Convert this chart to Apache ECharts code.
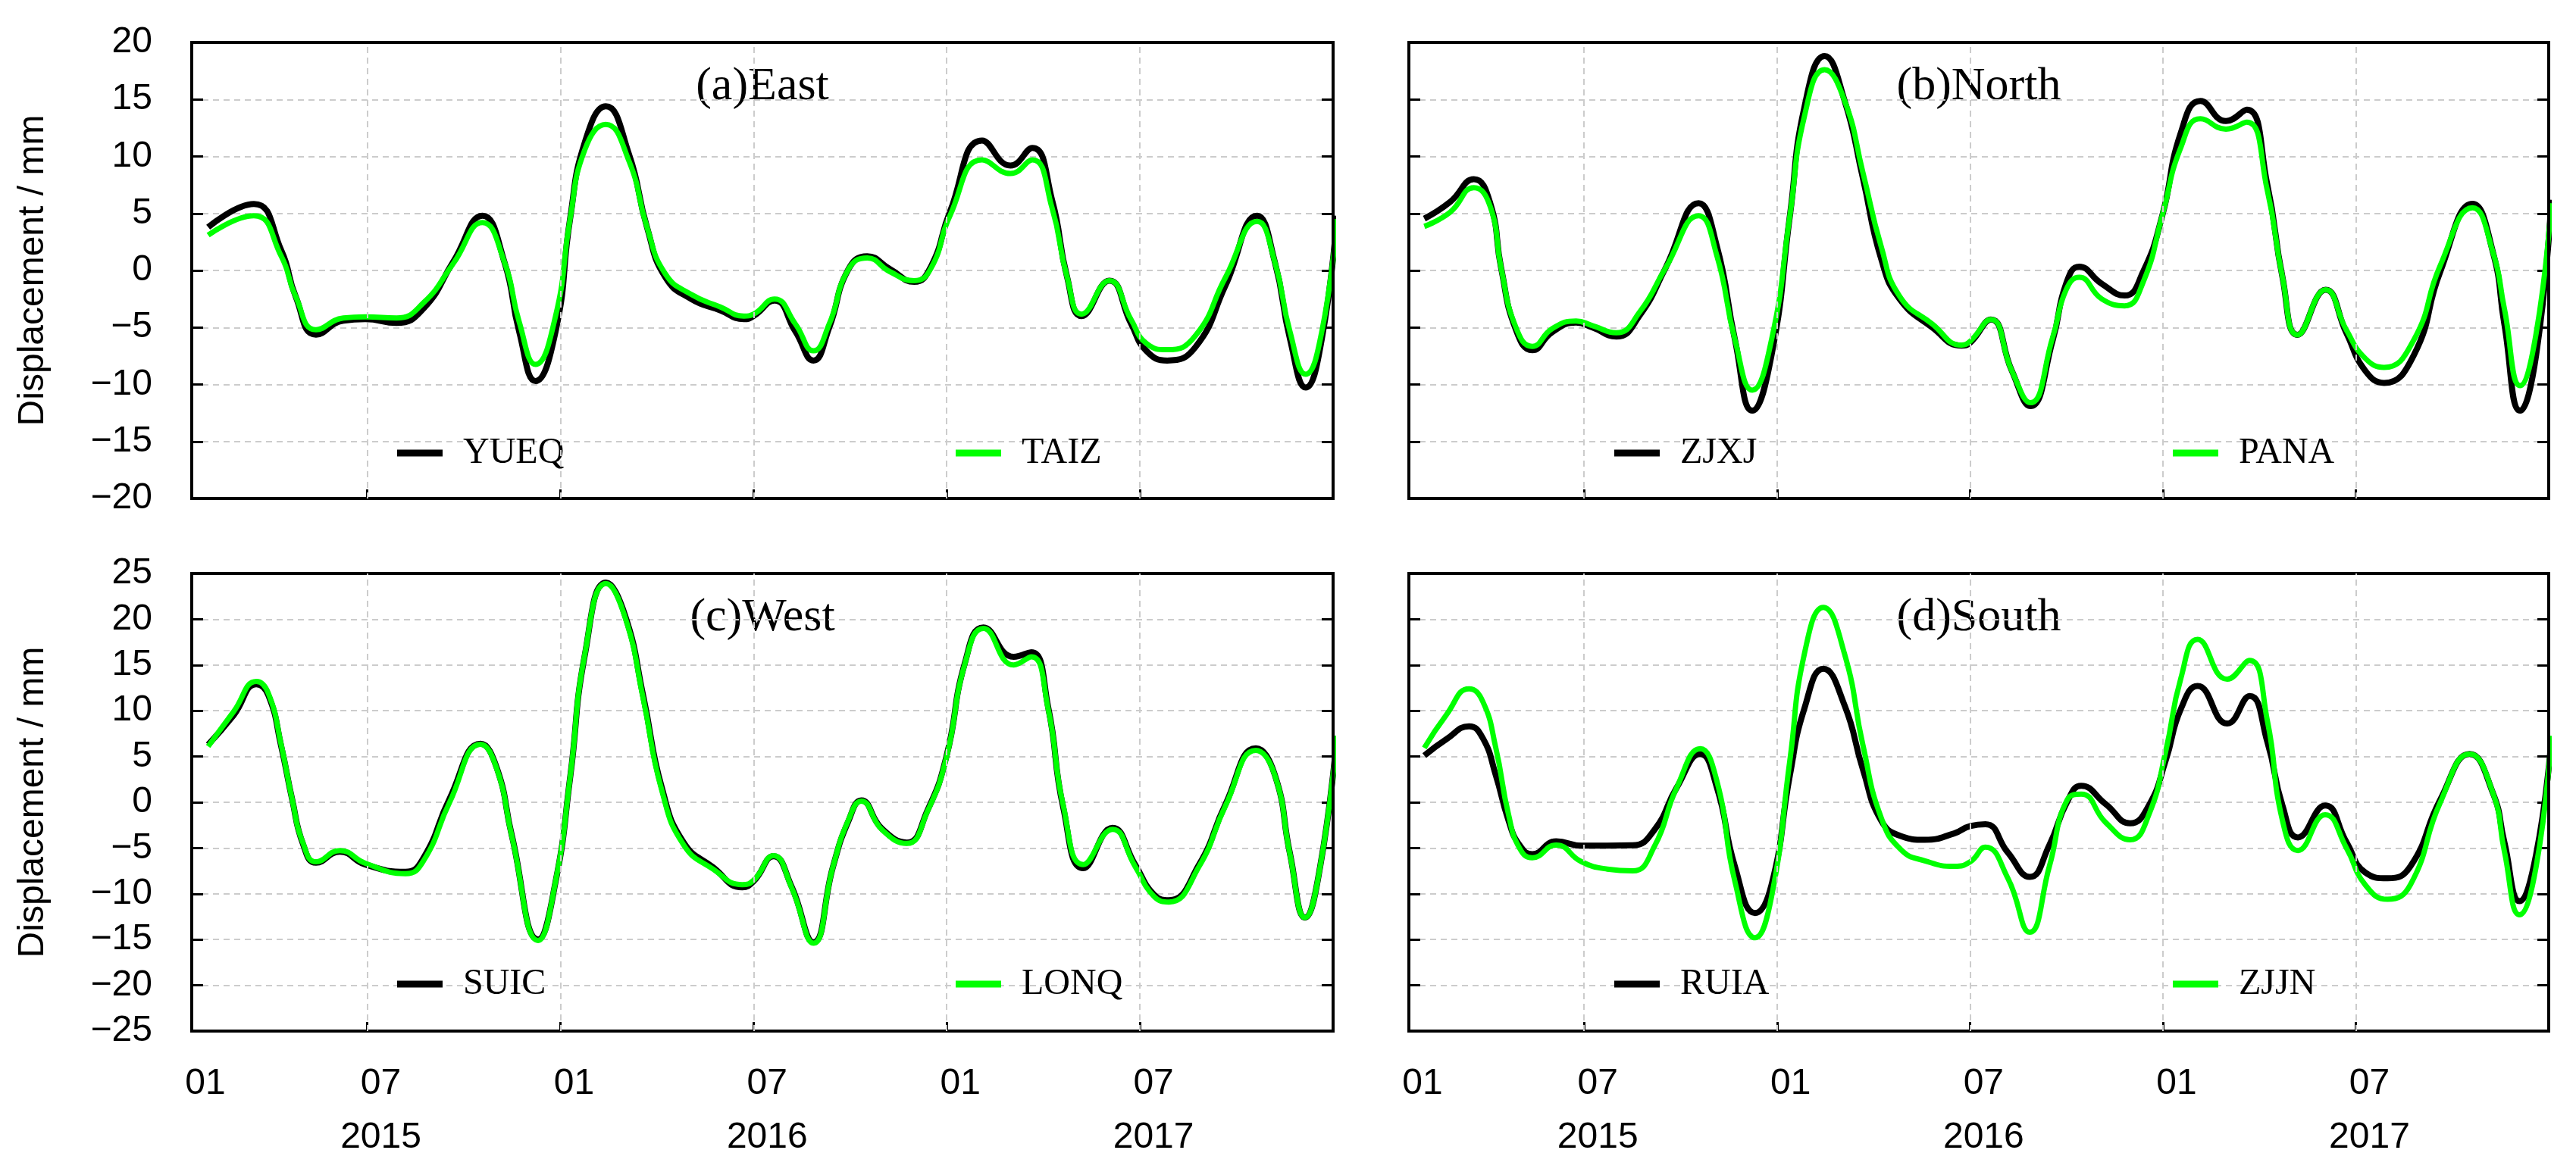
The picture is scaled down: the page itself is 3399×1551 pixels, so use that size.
<!DOCTYPE html>
<html>
<head>
<meta charset="utf-8">
<script src="https://cdn.jsdelivr.net/npm/echarts@6.0.0/dist/echarts.min.js"></script>
<style>
  html, body { margin: 0; padding: 0; background: #fff; }
  #chart { width: 3399px; height: 1551px; }
</style>
</head>
<body>
<div id="chart"></div>
<script>
// x values are months counted from 2015-01-01 (0 = Jan 2015, 6 = Jul 2015 ...)
const xTickMonths = [6, 12, 18, 24, 30];
const xLabelMonths = [0.55, 6, 12, 18, 24, 30];
const yearLabels = { 6: '2015', 18: '2016', 30: '2017' };

// (a) East
const eastX = [1.06, 2.48, 3.33, 3.78, 4.41, 5.26, 5.94, 6.91, 7.76, 8.67, 9.58, 10.26, 10.72, 11.23, 11.85, 12.3, 12.76, 13.41, 14.13, 14.69, 15.26, 16.06, 16.97, 17.7,
  18.0, 18.65, 19.3, 19.86, 20.35, 20.94, 21.53, 22.23, 22.99, 23.52, 24.1, 25.1, 25.98, 26.66, 27.27, 27.74, 28.19, 29.05, 29.73, 30.2, 30.85, 31.73, 32.66, 33.64, 34.19, 34.66, 35.15, 35.65, 36.12];
const eastYUEQ = [3.8, 5.83, 1.76, -2.3, -5.63, -4.4, -4.27, -4.6, -3.3, 0.75, 4.8, 0.75, -5.36, -9.7, -5.36, 4.5, 11.25, 14.4, 10.2, 3.8, -0.6, -2.5, -3.5, -4.27,
  -4.0, -2.64, -5.36, -7.9, -5.0, 0.07, 1.25, 0.14, -1.0, 0.4, 5.15, 11.4, 9.2, 10.75, 6.2, -0.6, -4.0, -0.9, -4.7, -7.05, -7.9, -6.7, -1.3, 4.8, 0.75, -6.0, -10.27, -6.0, 4.8];
const eastTAIZ = [3.1, 4.8, 1.25, -2.3, -5.2, -4.17, -4.07, -4.17, -2.8, 0.6, 4.2, 0.75, -4.5, -8.24, -4.0, 4.5, 10.6, 12.8, 9.6, 3.8, -0.3, -2.1, -3.2, -4.0,
  -3.83, -2.5, -4.7, -7.05, -4.7, 0.07, 1.1, -0.1, -0.9, 0.24, 4.8, 9.7, 8.5, 9.7, 5.5, -0.6, -3.83, -0.9, -4.34, -6.4, -6.95, -5.7, -0.6, 4.3, 0.75, -5.36, -9.1, -5.36, 4.5];

// (b) North
const northX = [1.03, 1.83, 2.57, 3.08, 3.42, 3.88, 4.39, 5.01, 5.75, 6.26, 7.0, 7.74, 8.53, 9.56, 10.13, 10.69, 11.23, 11.83, 12.4, 12.85, 13.48, 14.1, 14.67, 15.24, 15.81, 16.83, 17.74,
  18.01, 18.65, 19.3, 19.88, 20.58, 20.99, 21.4, 22.1, 22.81, 23.39, 23.98, 24.56, 25.17, 25.96, 26.61, 27.25, 27.72, 28.19, 29.06, 29.71, 30.29, 30.88, 31.81, 32.63, 33.63, 34.27, 34.62, 35.11, 35.61, 36.08];
const northZJXJ = [4.54, 6.0, 8.0, 5.9, 0.2, -5.2, -7.0, -5.4, -4.57, -5.0, -5.8, -3.9, 0.2, 5.9, 2.1, -6.06, -12.3, -7.4, 4.8, 14.3, 18.8, 14.9, 8.1, 1.0, -2.5, -5.0, -6.6,
  -6.33, -4.3, -8.78, -11.9, -6.06, -1.17, 0.33, -1.17, -2.2, -0.08, 4.8, 12.1, 14.86, 13.1, 14.1, 7.5, -0.6, -5.65, -1.7, -5.5, -8.78, -9.86, -7.4, -0.08, 5.84, 1.55, -4.7, -12.3, -7.4, 6.2];
const northPANA = [3.86, 5.1, 7.26, 5.6, 0.2, -5.0, -6.66, -5.1, -4.43, -4.84, -5.46, -3.6, 0.2, 4.8, 1.28, -6.06, -10.5, -6.06, 4.8, 13.5, 17.6, 14.9, 8.6, 2.1, -2.25, -4.7, -6.55,
  -6.2, -4.3, -8.78, -11.6, -5.8, -1.7, -0.6, -2.5, -3.1, -1.0, 4.8, 10.8, 13.3, 12.4, 13.0, 7.0, -0.6, -5.65, -1.7, -5.24, -7.7, -8.5, -6.06, 0.46, 5.5, 1.55, -3.34, -10.1, -5.5, 5.9];

// (c) West
const westX = [1.06, 1.85, 2.56, 2.93, 3.33, 3.67, 4.01, 4.41, 5.15, 5.94, 7.19, 7.76, 8.56, 9.52, 10.03, 10.49, 11.31, 11.85, 12.31, 12.76, 13.42, 14.01, 14.58, 15.15, 15.83, 16.74, 17.65,
  18.01, 18.62, 19.18, 19.86, 20.47, 20.94, 21.35, 21.99, 22.76, 23.4, 23.99, 24.57, 25.14, 26.08, 26.63, 27.15, 27.62, 28.24, 29.15, 29.85, 30.44, 30.9, 31.84, 32.66, 33.6, 34.19, 34.66, 35.13, 35.6, 36.12];
const westSUIC = [6.3, 9.5, 12.9, 11.7, 6.1, 0.3, -4.6, -6.6, -5.4, -6.8, -7.6, -6.0, 0.4, 6.4, 3.7, -3.6, -15.0, -8.7, 2.9, 16.1, 24.0, 20.4, 11.5, 1.6, -4.4, -7.1, -9.3,
  -8.6, -5.9, -9.2, -15.3, -7.0, -2.1, 0.2, -2.9, -4.4, -0.9, 5.0, 15.3, 19.1, 15.9, 16.4, 10.4, -0.6, -7.2, -2.8, -6.8, -10.1, -10.7, -6.8, -0.2, 5.9, 3.0, -5.6, -12.6, -7.0, 7.26];
const westLONQ = [6.1, 9.9, 13.2, 11.9, 6.26, 0.3, -4.5, -6.5, -5.27, -6.66, -7.8, -6.33, 0, 6.33, 3.6, -3.68, -15.1, -8.65, 2.95, 16.2, 23.9, 20.2, 11.2, 1.3, -4.67, -7.3, -9.0,
  -8.5, -5.83, -9.3, -15.4, -7.0, -2.0, 0.13, -3.0, -4.5, -1.0, 4.9, 15.2, 19.0, 15.0, 15.9, 10.2, -0.36, -6.8, -2.95, -7.0, -10.3, -10.9, -7.0, -0.36, 5.67, 2.95, -5.67, -12.6, -7.0, 7.26];

// (d) South
const southX = [1.03, 1.72, 2.42, 2.85, 3.25, 3.65, 3.99, 4.39, 5.13, 5.92, 6.72, 7.51, 8.19, 8.88, 9.61, 10.13, 10.69, 11.32, 11.83, 12.4, 12.85, 13.44, 14.1, 14.67, 15.24, 15.86, 16.6, 17.51,
  18.01, 18.48, 19.18, 19.86, 20.47, 21.03, 21.46, 22.22, 22.98, 23.57, 24.09, 24.56, 25.08, 26.0, 26.7, 27.25, 27.72, 28.2, 29.05, 29.71, 30.29, 30.99, 31.7, 32.63, 33.54, 34.27, 34.62, 35.09, 35.61, 36.08];
const southRUIA = [5.1, 6.9, 8.3, 7.0, 3.0, -2.0, -4.67, -5.67, -4.27, -4.74, -4.74, -4.7, -3.0, 1.6, 5.27, 1.6, -7.0, -12.1, -9.0, 2.95, 10.24, 14.6, 10.6, 3.6, -2.0, -3.7, -4.1, -3.4,
  -2.6, -2.4, -5.5, -8.15, -4.67, 0.1, 1.8, -0.2, -2.3, -0.3, 4.6, 10.2, 12.7, 8.6, 11.6, 6.6, -0.36, -3.84, -0.36, -4.34, -7.65, -8.3, -7.0, 0.3, 5.27, 0.96, -4.34, -10.8, -5.67, 6.9];
const southZJJN = [5.93, 9.58, 12.4, 11.0, 6.0, -1.36, -5.0, -6.06, -4.67, -6.5, -7.3, -7.5, -4.8, 1.6, 5.86, 2.3, -8.65, -14.8, -10.3, 4.6, 16.2, 21.3, 16.2, 6.26, -1.7, -5.2, -6.4, -7.0,
  -6.5, -4.9, -8.3, -14.2, -7.0, 0.3, 0.9, -2.2, -4.1, -1.3, 5.6, 13.55, 17.8, 13.45, 15.5, 8.9, -2.0, -5.27, -1.36, -5.0, -9.0, -10.6, -9.0, 0, 5.27, 0.96, -5.33, -12.3, -7.0, 7.26];

const SANS = '"Liberation Sans", Arial, sans-serif';
const SERIF = '"Liberation Serif", "Times New Roman", serif';
const GREEN = '#00ff00';

const panels = [
  { title: '(a)East',  x: eastX,  lines: [['YUEQ', eastYUEQ], ['TAIZ', eastTAIZ]],   left: 253,  top: 56,  width: 1506, height: 602, yMin: -20, yMax: 20, yLabels: true,  xLabels: false },
  { title: '(b)North', x: northX, lines: [['ZJXJ', northZJXJ], ['PANA', northPANA]], left: 1859, top: 56,  width: 1504, height: 602, yMin: -20, yMax: 20, yLabels: false, xLabels: false },
  { title: '(c)West',  x: westX,  lines: [['SUIC', westSUIC], ['LONQ', westLONQ]],   left: 253,  top: 757, width: 1506, height: 604, yMin: -25, yMax: 25, yLabels: true,  xLabels: true },
  { title: '(d)South', x: southX, lines: [['RUIA', southRUIA], ['ZJJN', southZJJN]], left: 1859, top: 757, width: 1504, height: 604, yMin: -25, yMax: 25, yLabels: false, xLabels: true }
];

const dashed = { color: '#cccccc', width: 2, type: [8, 6] };

const grid = [], xAxis = [], yAxis = [], series = [], legend = [], graphic = [];

panels.forEach((p, i) => {
  grid.push({ left: p.left, top: p.top, width: p.width, height: p.height,
    show: true, borderColor: '#000', borderWidth: 4, backgroundColor: 'transparent', z: 5 });

  xAxis.push({
    type: 'value', gridIndex: i, min: 0.55, max: 36, position: 'bottom',
    axisLine: { show: false, onZero: false },
    axisTick: { show: true, inside: true, length: 12, customValues: xTickMonths, lineStyle: { color: '#000', width: 3 } },
    splitLine: { show: false },
    axisLabel: {
      show: p.xLabels, customValues: xLabelMonths, margin: 34,
      fontFamily: SANS, fontSize: 48, color: '#000', lineHeight: 71,
      padding: [0, 0, 0, 36],
      formatter: v => (yearLabels[v] ? '07\n' + yearLabels[v] : '01')
    }
  });

  const yBase = {
    type: 'value', gridIndex: i, min: p.yMin, max: p.yMax, interval: 5,
    axisLine: { show: false, onZero: false },
    axisTick: { show: true, inside: true, length: 15, lineStyle: { color: '#000', width: 3 } }
  };
  yAxis.push(Object.assign({}, yBase, {
    position: 'left',
    splitLine: { show: true, showMinLine: false, showMaxLine: false, lineStyle: dashed },
    axisLabel: { show: p.yLabels, margin: 52, fontFamily: SANS, fontSize: 48, color: '#000',
      formatter: v => String(v).replace('-', '\u2212') },
    name: p.yLabels ? 'Displacement / mm' : '',
    nameLocation: 'middle', nameGap: 185,
    nameTextStyle: { fontFamily: SANS, fontSize: 48, color: '#000' }
  }));
  yAxis.push(Object.assign({}, yBase, {
    position: 'right', splitLine: { show: false }, axisLabel: { show: false }
  }));

  // vertical dashed grid lines at the 01 / 07 month ticks
  series.push({
    type: 'line', xAxisIndex: i, yAxisIndex: i * 2, data: [], silent: true, z: 1,
    markLine: {
      silent: true, symbol: 'none', animation: false,
      label: { show: false }, lineStyle: dashed,
      data: xTickMonths.map(v => ({ xAxis: v }))
    }
  });

  p.lines.forEach(([name, vals], k) => {
    series.push({
      name, type: 'line', xAxisIndex: i, yAxisIndex: i * 2,
      data: p.x.map((x, j) => [x, vals[j]]),
      smooth: true, showSymbol: false, silent: true,
      lineStyle: { color: k === 0 ? '#000' : GREEN, width: k === 0 ? 8 : 7 },
      itemStyle: { color: k === 0 ? '#000' : GREEN },
      z: 2 + k
    });
    const legendCy = p.top + 542;
    legend.push({
      data: [name], left: p.left + (k === 0 ? 271 : 1008), top: legendCy - 24,
      padding: 0, icon: 'rect', itemWidth: 60, itemHeight: 9, selectedMode: false,
      textStyle: { fontFamily: SERIF, fontSize: 48, color: '#000', lineHeight: 48, padding: [0, 0, 0, 22] }
    });
  });

  graphic.push({
    type: 'text', x: p.left + p.width / 2, y: p.top + 59,
    style: { text: p.title, font: '62px ' + SERIF, fill: '#000', textAlign: 'center', textVerticalAlign: 'middle' }
  });
});

const chart = echarts.init(document.getElementById('chart'), null, { renderer: 'canvas' });
chart.setOption({
  animation: false,
  backgroundColor: '#fff',
  grid, xAxis, yAxis, series, legend, graphic
});
</script>
</body>
</html>
